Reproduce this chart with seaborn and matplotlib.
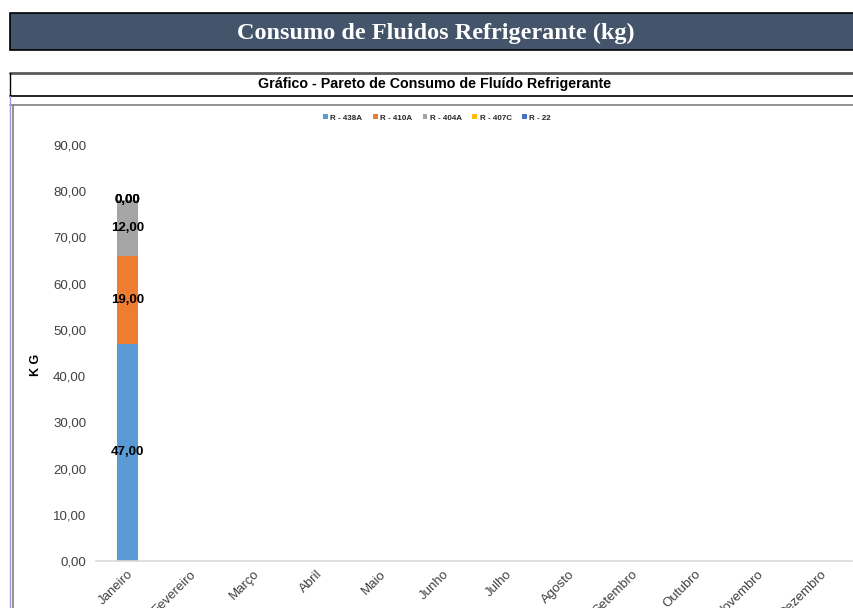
import matplotlib
matplotlib.use('Agg')
import matplotlib.pyplot as plt
import numpy as np
import pandas as pd
import seaborn as sns
from matplotlib.patches import Rectangle, Patch
from matplotlib.lines import Line2D

sns.set_theme(style='white')
plt.rcParams['font.family'] = ['Liberation Sans', 'DejaVu Sans']

# ===============================================================================
# data

months = ['Janeiro', 'Fevereiro', 'Março', 'Abril', 'Maio', 'Junho', 'Julho',
          'Agosto', 'Setembro', 'Outubro', 'Novembro', 'Dezembro']
fluids = ['R - 438A', 'R - 410A', 'R - 404A', 'R - 407C', 'R - 22']
colors = ['#5B9BD5', '#ED7D31', '#A5A5A5', '#FFC000', '#4472C4']

r438a = [47, None, None, None, None, None, None, None, None, None, None, None]
r410a = [19, None, None, None, None, None, None, None, None, None, None, None]
r404a = [12, None, None, None, None, None, None, None, None, None, None, None]
r407c = [0, None, None, None, None, None, None, None, None, None, None, None]
r22 = [0, None, None, None, None, None, None, None, None, None, None, None]

series = [r438a, r410a, r404a, r407c, r22]

yticks = [0, 10, 20, 30, 40, 50, 60, 70, 80, 90]

# ===============================================================================

W, H = 854, 608
fig = plt.figure(figsize=(W / 100, H / 100), dpi=100)
fig.patch.set_facecolor('white')


def fx(px):
    return px / W


def fy(py):
    return 1 - py / H


# header bar
fig.patches.append(Rectangle((fx(10), fy(50)), fx(860) - fx(10), fy(13) - fy(50),
                             transform=fig.transFigure, facecolor='#44546A',
                             edgecolor='black', linewidth=1.2, zorder=0))
fig.text(fx(436), fy(33), 'Consumo de Fluidos Refrigerante (kg)', color='white',
         fontsize=17.5, fontweight='bold', family='Liberation Serif',
         ha='center', va='center')

# row lines
for y, c, lw in [(73, '#595959', 2.0), (96, 'black', 1.2), (105, '#808080', 1.2)]:
    fig.lines.append(Line2D([fx(10), fx(860)], [fy(y), fy(y)], color=c, lw=lw,
                            transform=fig.transFigure))
fig.lines.append(Line2D([fx(10), fx(10)], [fy(73), fy(96)], color='black', lw=1,
                        transform=fig.transFigure))
fig.lines.append(Line2D([fx(10), fx(10)], [fy(96), fy(620)], color='#9999DD', lw=1,
                        transform=fig.transFigure))
fig.lines.append(Line2D([fx(13), fx(13)], [fy(105), fy(620)], color='#808080', lw=1.2,
                        transform=fig.transFigure))
fig.text(fx(435), fy(84), 'Gráfico - Pareto de Consumo de Fluído Refrigerante',
         fontsize=10.3, fontweight='bold', ha='center', va='center', color='black')

# chart
ax = fig.add_axes([fx(96), fy(561), fx(852) - fx(96), fy(145) - fy(561)])

bottom = np.zeros(len(months))
handles = []
for name, vals, col in zip(fluids, series, colors):
    v = np.array([0 if x is None else x for x in vals], dtype=float)
    df = pd.DataFrame({'month': months, 'kg': v})
    n_before = len(ax.containers)
    sns.barplot(data=df, x='month', y='kg', order=months, color=col, width=0.32,
                bottom=bottom, errorbar=None, saturation=1, linewidth=0, ax=ax)
    cont = ax.containers[n_before]
    labels = ['' if x is None else f'{x:.2f}'.replace('.', ',') for x in vals]
    ax.bar_label(cont, labels=labels, label_type='center', fontsize=9.5,
                 fontweight='bold', color='black')
    bottom = bottom + v
    handles.append(Patch(facecolor=col, edgecolor='none', label=name))

ax.set_ylim(0, 90)
ax.set_xlim(-0.5, len(months) - 0.5)
ax.set_yticks(yticks)
ax.set_yticklabels([f'{t:.2f}'.replace('.', ',') for t in yticks], fontsize=9.5,
                   color='#404040')
ax.tick_params(axis='y', length=0, pad=7)
ax.tick_params(axis='x', length=0, pad=5)
ax.set_xticks(range(len(months)))
ax.set_xticklabels(months, rotation=45, ha='right', va='top', rotation_mode='anchor',
                   fontsize=9.5, color='#404040')
ax.set_xlabel('')
ax.set_ylabel('K G', fontsize=9, fontweight='bold', color='black')
ax.yaxis.set_label_coords(-(96 - 42) / (852 - 96), (561 - 365) / (561 - 145))
for s in ['top', 'right', 'left']:
    ax.spines[s].set_visible(False)
ax.spines['bottom'].set_color('#D9D9D9')
ax.spines['bottom'].set_linewidth(1.2)
ax.set_facecolor('none')

fig.legend(handles=handles, loc='center', bbox_to_anchor=(fx(437), fy(118)),
           ncol=5, frameon=False, handlelength=0.6, handleheight=0.6,
           handletextpad=0.3, columnspacing=1.3,
           prop={'size': 5.8, 'weight': 'bold'})

plt.savefig('out.png', dpi=100)
